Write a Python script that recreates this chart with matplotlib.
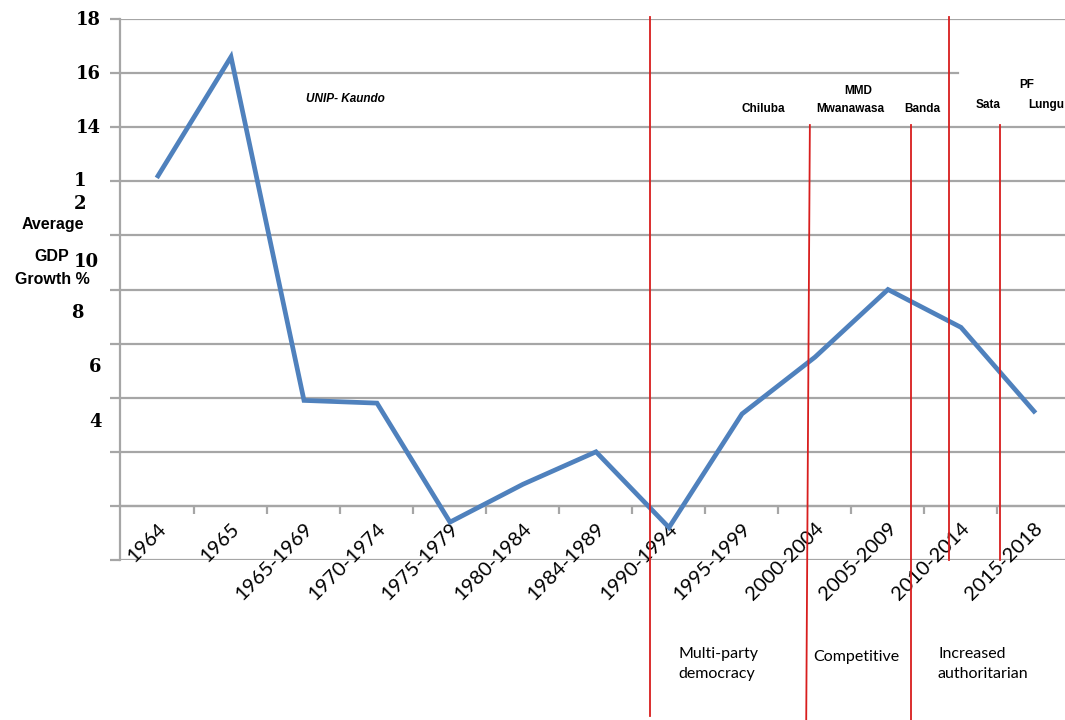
import matplotlib.pyplot as plt
import numpy as np

# Datos del gráfico (crecimiento promedio del PIB, Zambia)
periodos = ["1964", "1965", "1965-1969", "1970-1974", "1975-1979", "1980-1984",
            "1984-1989", "1990-1994", "1995-1999", "2000-2004", "2005-2009",
            "2010-2014", "2015-2018"]
crecimiento = [12.2, 16.6, 3.9, 3.8, -0.6, 0.8, 2.0, -0.8, 3.4, 5.5, 8.0, 6.6, 3.5]

y_grid = [-2, 0, 2, 4, 6, 8, 10, 12, 14, 16, 18]

# Etiquetas del eje y tal como aparecen (desalineadas en el original)
y_labels = [("18", 88, 20), ("16", 88, 74), ("14", 88, 128), ("1", 80, 181),
            ("2", 80, 204), ("10", 86, 262), ("8", 77, 313), ("6", 95, 367),
            ("4", 95, 422)]
y_title = [("Average", 53, 225), ("GDP", 52, 256), ("Growth %", 52, 280)]

# Líneas rojas de cambio de régimen: (x arriba, y arriba, x abajo, y abajo) en datos
cortes = [(6.74, 18.07, 6.74, -7.75),
          (8.93, 14.08, 8.88, -7.9),
          (10.32, 14.08, 10.32, -7.9),
          (10.84, 18.07, 10.84, -2),
          (11.53, 14.08, 11.53, -2)]

lideres = [("UNIP- Kaundo", 345, 99, "italic"), ("Chiluba", 763, 109, "normal"),
           ("MMD", 858, 91, "normal"), ("Mwanawasa", 850, 109, "normal"),
           ("Banda", 922, 109, "normal"), ("PF", 1027, 85, "normal"),
           ("Sata", 988, 105, "normal"), ("Lungu", 1046, 105, "normal")]
regimenes = [("Multi-party\ndemocracy", 678, 664), ("Competitive", 813, 657),
             ("Increased\nauthoritarian", 938, 664)]

W, H = 1065, 720
GRIS = "#A6A6A6"
AZUL = "#4F81BD"
ROJO = "#D81E1E"

fig = plt.figure(figsize=(W / 100, H / 100), dpi=100)
ax = fig.add_axes([120 / W, (H - 560) / H, (W - 120) / W, (560 - 19) / H])

x = np.arange(len(periodos))

# Rejilla horizontal (la línea de 16 queda tapada a la derecha en el original)
for v in y_grid:
    xmax = 0.887 if v == 16 else 1.0
    ax.axhline(v, xmin=0, xmax=xmax, color=GRIS, lw=1.6, zorder=1)

ax.plot(x, crecimiento, color=AZUL, lw=3.4, solid_joinstyle="miter", zorder=3)

for x0, y0, x1, y1 in cortes:
    ax.plot([x0, x1], [y0, y1], color=ROJO, lw=1.3, clip_on=False, zorder=4)

ax.set_xlim(-0.5205, 12.425)
ax.set_ylim(-2, 18)

for s in ["top", "right"]:
    ax.spines[s].set_visible(False)
ax.spines["left"].set_color(GRIS)
ax.spines["left"].set_linewidth(1.6)
ax.spines["bottom"].set_position(("data", 0))
ax.spines["bottom"].set_color(GRIS)
ax.spines["bottom"].set_linewidth(1.6)

ax.set_yticks(y_grid)
ax.set_yticklabels([])
ax.tick_params(axis="y", length=7, width=1.6, color=GRIS, direction="out")

ax.set_xticks(x[:-1] + 0.5)
ax.set_xticklabels([])
ax.tick_params(axis="x", which="major", length=6, width=1.6, color=GRIS, direction="out")
ax.set_xticks(x, minor=True)
ax.set_xticklabels(periodos, minor=True, rotation=45, ha="right",
                   rotation_mode="anchor", fontsize=14.5, family="Lato")
ax.tick_params(axis="x", which="minor", length=0, pad=10)


def texto(s, px, py, **kw):
    fig.text(px / W, 1 - py / H, s, **kw)


for s, px, py in y_labels:
    texto(s, px, py, ha="center", va="center", fontsize=13,
          family="DejaVu Serif", weight="bold")
for s, px, py in y_title:
    texto(s, px, py, ha="center", va="center", fontsize=11.5,
          family="Liberation Sans", weight="bold")
for s, px, py, estilo in lideres:
    texto(s, px, py, ha="center", va="center", fontsize=8.5, style=estilo,
          family="Liberation Sans", weight="bold")
for s, px, py in regimenes:
    texto(s, px, py, ha="left", va="center", fontsize=11.5, family="Lato",
          linespacing=1.5)

fig.savefig("out.png", dpi=100)
